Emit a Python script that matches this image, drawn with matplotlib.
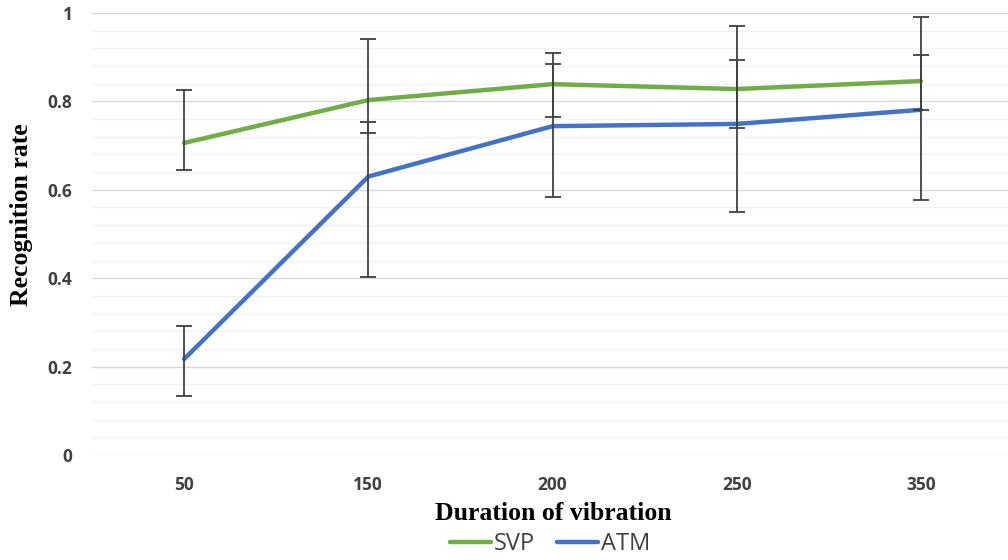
import matplotlib
matplotlib.use("Agg")
from matplotlib import pyplot as plt
from matplotlib.ticker import MultipleLocator
import numpy as np

durations = ["50", "150", "200", "250", "350"]

svp = [0.706, 0.803, 0.839, 0.828, 0.846]
svp_err_plus = [0.120, 0.138, 0.070, 0.143, 0.146]
svp_err_minus = [0.061, 0.074, 0.074, 0.089, 0.065]

atm = [0.217, 0.630, 0.744, 0.749, 0.781]
atm_err_plus = [0.075, 0.124, 0.140, 0.145, 0.125]
atm_err_minus = [0.084, 0.227, 0.160, 0.199, 0.204]

fig = plt.figure(figsize=(10.08, 5.6), dpi=100)
ax = fig.add_axes([92 / 1008, 105 / 560, 921 / 1008, 442 / 560])

x = np.arange(len(durations))
err_style = dict(ecolor="#404040", elinewidth=1.3, capsize=6, capthick=1.3, fmt="none", zorder=3)

l1, = ax.plot(x, svp, color="#70AD47", lw=3.2, solid_capstyle="round", zorder=2, label="SVP")
l2, = ax.plot(x, atm, color="#4472C4", lw=3.2, solid_capstyle="round", zorder=2, label="ATM")
ax.errorbar(x, svp, yerr=[svp_err_minus, svp_err_plus], **err_style)
ax.errorbar(x, atm, yerr=[atm_err_minus, atm_err_plus], **err_style)

ax.set_xlim(-0.5, len(durations) - 0.5)
ax.set_ylim(0, 1)
ax.yaxis.set_major_locator(MultipleLocator(0.2))
ax.yaxis.set_minor_locator(MultipleLocator(0.04))
ax.grid(which="major", axis="y", color="#D9D9D9", lw=1.0)
ax.grid(which="minor", axis="y", color="#F2F2F2", lw=1.0)
ax.set_axisbelow(True)
for s in ax.spines.values():
    s.set_visible(False)

ax.set_xticks(x)
ax.set_xticklabels(durations)
ax.set_yticks([0, 0.2, 0.4, 0.6, 0.8, 1.0])
ax.set_yticklabels(["0", "0.2", "0.4", "0.6", "0.8", "1"])
ax.tick_params(which="both", length=0)
ax.tick_params(axis="y", pad=14)
ax.tick_params(axis="x", pad=15)
for lab in ax.get_xticklabels() + ax.get_yticklabels():
    lab.set_fontfamily("Open Sans")
    lab.set_fontweight("bold")
    lab.set_fontsize(12.5)
    lab.set_color("#404040")

fig.text(22 / 1008, 1 - 215 / 560, "Recognition rate", rotation=90, ha="center", va="center",
         fontfamily="Liberation Serif", fontweight="bold", fontsize=18.5)
fig.text(553 / 1008, 1 - 514 / 560, "Duration of vibration", ha="center", va="center",
         fontfamily="Liberation Serif", fontweight="bold", fontsize=18.5)

fig.legend(handles=[l1, l2], loc="center", bbox_to_anchor=(550 / 1008, 1 - 544 / 560), ncol=2,
           frameon=False, prop={"family": "Open Sans", "size": 17}, handlelength=1.75,
           handletextpad=0.12, columnspacing=0.9, labelcolor="#404040")

fig.savefig("out.png", dpi=100)
